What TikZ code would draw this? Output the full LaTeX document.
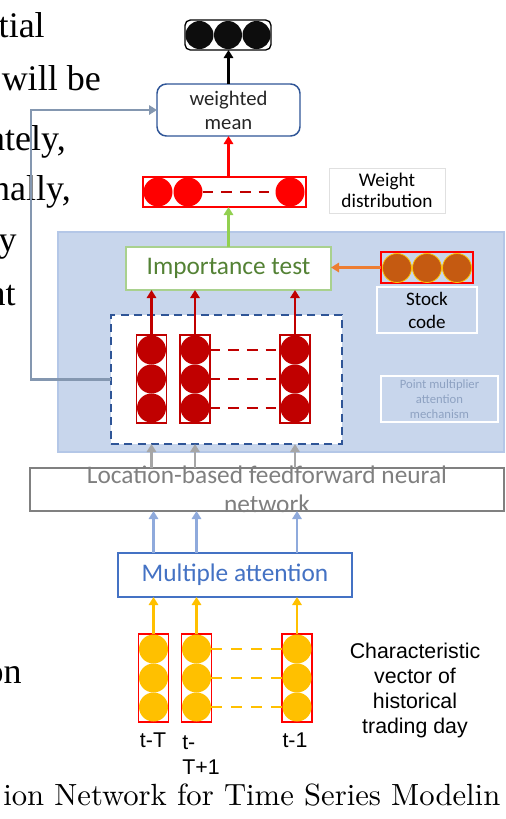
\documentclass[tikz,border=0pt]{standalone}
\usepackage{fontspec}
\newfontfamily\calfont{Carlito}
\newfontfamily\arialfont{Liberation Sans}
\newfontfamily\timesfont{Liberation Serif}
\newfontfamily\lmten{lmroman10-regular}[Extension=.otf]
\usetikzlibrary{arrows.meta}
\definecolor{panelfill}{HTML}{C8D6EC}
\definecolor{panelborder}{HTML}{B4C7E7}
\definecolor{darkblue}{HTML}{2F5597}
\definecolor{conncol}{HTML}{8497B0}
\definecolor{darkred}{HTML}{C00000}
\definecolor{brightred}{HTML}{FF0000}
\definecolor{greenborder}{HTML}{A9D18E}
\definecolor{greentext}{HTML}{548235}
\definecolor{greenarrow}{HTML}{92D050}
\definecolor{orangearrow}{HTML}{ED7D31}
\definecolor{stockfill}{HTML}{C55A11}
\definecolor{grayarrow}{HTML}{A6A6A6}
\definecolor{grayborder}{HTML}{808080}
\definecolor{graytext}{HTML}{7F7F7F}
\definecolor{lightbluearrow}{HTML}{8FAADC}
\definecolor{accentblue}{HTML}{4472C4}
\definecolor{yellowc}{HTML}{FFC000}
\definecolor{pmtext}{HTML}{8EA2C2}
\begin{document}
\begin{tikzpicture}[x=0.75pt,y=-0.75pt,
  box/.style={rectangle, inner sep=0pt, outer sep=0pt},
  sz/.style 2 args={minimum width=#1*0.75pt, minimum height=#2*0.75pt},
  dot/.style={circle, inner sep=0pt, outer sep=0pt, minimum size=29*0.75pt},
  bgtext/.style={anchor=base east, inner sep=0pt, font=\timesfont\fontsize{27}{30}\selectfont},
  tip/.style={-{Triangle[length=6pt,width=7pt]}},
  arrow/.style={line width=2.2pt, tip},
  dashlink/.style={line width=1.6pt, dash pattern=on 8pt off 6pt},
  lab/.style={inner sep=0pt, font=\arialfont\fontsize{16}{18.75}\selectfont},
]
\useasboundingbox (0,0) rectangle (506,819);
\clip (0,0) rectangle (506,819);

% page text around the figure
\node[bgtext] (bgA) at (45,37) {tial};
\node[bgtext] (bgB) at (101,90) {will be};
\node[bgtext] (bgC) at (66,150) {ately,};
\node[bgtext] (bgD) at (71,200) {nally,};
\node[bgtext] (bgE) at (17,251) {y};
\node[bgtext] (bgF) at (16,305) {nt};
\node[bgtext] (bgG) at (22,683) {on};
\node[anchor=base west, inner sep=0pt, font=\lmten\fontsize{23}{26}\selectfont] (cap) at (3,805) {ion Network for Time Series Modelin};

% blue panel
\node[box, fill=panelfill, draw=panelborder, line width=0.8pt, sz={446}{220}] (panel) at (281,342) {};

% top output vector
\node[box, draw=black, line width=1pt, rounded corners=4pt, sz={86}{30}] (topbox) at (228,35) {};
\foreach \n/\x in {1/199.5, 2/228, 3/256.5}
  \node[dot, fill=black!95, minimum size=28*0.75pt] (k\n) at (\x,35) {};

% weighted mean
\node[box, draw=darkblue, fill=white, line width=1.1pt, rounded corners=7pt, sz={143}{52},
  align=center, font=\calfont\fontsize{15.5}{18}\selectfont, text=black!85] (wmean) at (228.5,110) {weighted\\mean};

% weight distribution vector
\node[box, draw=brightred, line width=0.9pt, sz={163}{30}] (wdist) at (224.5,192) {};
\node[dot, fill=brightred] (w1) at (158,192) {};
\node[dot, fill=brightred] (w2) at (188,192) {};
\node[dot, fill=brightred] (w3) at (290,192) {};
\draw[darkred, dashlink] (w2.east) -- (w3.west);
\node[box, draw=black!12, line width=0.5pt, sz={116}{45}, align=center,
  font=\calfont\fontsize{14.5}{15.75}\selectfont] (wlabel) at (387,190.5) {Weight\\distribution};

% importance test
\node[box, draw=greenborder, fill=white, line width=1.1pt, sz={205}{43},
  font=\calfont\fontsize{19}{22}\selectfont, text=greentext] (imp) at (228.5,268.5) {Importance test};

% stock code
\node[box, draw=brightred, line width=0.9pt, sz={92}{31}] (stockvec) at (427,267.5) {};
\foreach \n/\x in {1/397, 2/427, 3/457}
  \node[dot, fill=stockfill, draw=yellowc, line width=0.6pt] (s\n) at (\x,268) {};
\node[box, draw=white, line width=1.1pt, sz={100}{46}, align=center,
  font=\calfont\fontsize{14.3}{17.25}\selectfont] (stocklabel) at (427,310) {Stock\\code};

% point multiplier label
\node[box, draw=white, line width=1.1pt, sz={117}{46}, align=center,
  font=\calfont\fontsize{9.5}{11.25}\selectfont, text=pmtext] (pm) at (439.5,399) {Point multiplier\\attention\\mechanism};

% dashed box with red vectors
\node[box, draw=darkblue, fill=white, line width=1.5pt, dash pattern=on 6pt off 4pt, sz={231}{129}] (dbox) at (226.5,379.5) {};
\foreach \n/\x in {1/151.5, 2/195, 3/295} {
  \node[box, draw=darkred, line width=0.9pt, sz={30}{88}] (rc\n) at (\x,379) {};
  \foreach \m/\y in {a/350, b/379, c/408}
    \node[dot, fill=darkred] (rc\n\m) at (\x,\y) {};
}
\foreach \m in {a,b,c}
  \draw[darkred, dashlink] (rc2\m.east) -- (rc3\m.west);

% location-based feedforward network
\node[box, draw=grayborder, line width=1.1pt, sz={474}{43}] (loc) at (267,489.5) {};
\node[anchor=base, inner sep=0pt, font=\calfont\fontsize{19}{22}\selectfont, text=graytext] (locA) at (267,483) {Location-based feedforward neural};
\node[anchor=base, inner sep=0pt, font=\calfont\fontsize{19}{22}\selectfont, text=graytext] (locB) at (267,512) {network};

% multiple attention
\node[box, draw=accentblue, fill=white, line width=1.1pt, sz={234}{44},
  font=\calfont\fontsize{19}{22}\selectfont, text=accentblue] (multi) at (235,575) {Multiple attention};

% yellow input vectors
\foreach \n/\x in {1/153.5, 2/196.5, 3/297} {
  \node[box, draw=brightred, line width=0.9pt, sz={30}{88}] (yc\n) at (\x,678) {};
  \foreach \m/\y in {a/649, b/678, c/707}
    \node[dot, fill=yellowc] (yc\n\m) at (\x,\y) {};
}
\foreach \m in {a,b,c}
  \draw[yellowc, line width=1.6pt, dash pattern=on 8pt off 7pt] (yc2\m.east) -- (yc3\m.west);

% labels
\node[lab, anchor=base] (lT) at (153,747) {t-T};
\node[lab, anchor=north west, align=left] (lT1) at (182,735) {t-\\T+1};
\node[lab, anchor=base] (l1) at (295,747) {t-1};
\node[lab, align=center] (chartxt) at (415,690) {Characteristic\\vector of\\historical\\trading day};

% arrows
\draw[arrow, black] (wmean.north) -- (wmean.north |- topbox.south);
\draw[arrow, brightred] (wmean.south |- wdist.north) -- (wmean.south);
\draw[arrow, greenarrow] (imp.north) -- (imp.north |- wdist.south);
\draw[arrow, orangearrow] (stockvec.west) -- (imp.east |- stockvec.west);
\foreach \n in {1,2,3} {
  \draw[arrow, darkred] (rc\n.north) -- (rc\n.north |- imp.south);
  \draw[arrow, grayarrow] (rc\n.south |- loc.north) -- (rc\n.south |- dbox.south);
  \draw[arrow, lightbluearrow] (yc\n.north |- multi.north) -- (yc\n.north |- loc.south);
  \draw[arrow, yellowc] (yc\n.north) -- (yc\n.north |- multi.south);
}
\coordinate (bend) at (31,110);
\draw[arrow, conncol] (dbox.west) -| (bend) -- (wmean.west);
\end{tikzpicture}
\end{document}
